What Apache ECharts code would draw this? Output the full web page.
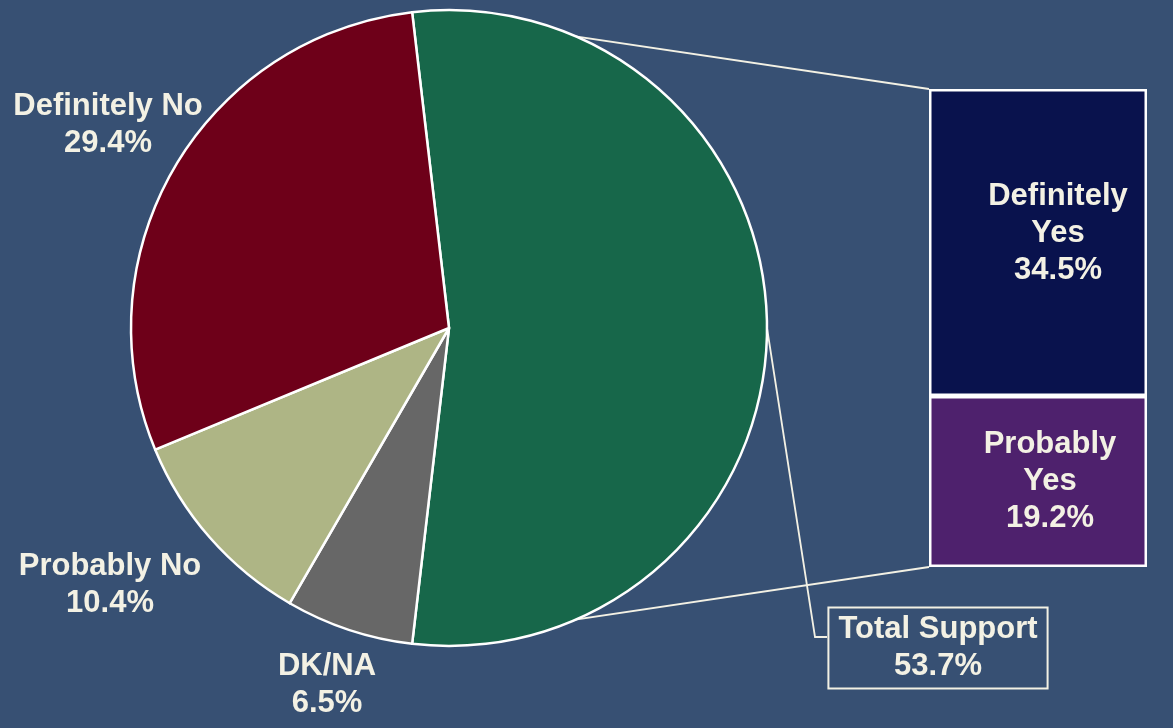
<!DOCTYPE html>
<html><head><meta charset="utf-8">
<script src="https://cdn.jsdelivr.net/npm/echarts@6/dist/echarts.min.js"></script>
<style>html,body{margin:0;padding:0;background:#375073}#c{width:1173px;height:728px}</style>
</head><body><div id="c"></div>
<script>
// Pie (main) data: first slice is the aggregated "Total Support"
const pieNames = ['Total Support', 'DK/NA', 'Probably No', 'Definitely No'];
const pieValues = [53.7, 6.5, 10.4, 29.4];
const pieColors = ['#17674a', '#676767', '#aeb585', '#6e0019'];
// Breakdown bar (bottom to top)
const barNames = ['Probably Yes', 'Definitely Yes'];
const barValues = [19.2, 34.5];
const barColors = ['#4e216d', '#09124d'];

const TXT = '#f3f1e4';
const FONT = 'Liberation Sans, Arial, sans-serif';
const FS = 31;
const CENTER = [449, 328];
const RADIUS = 318;
const startAngle = pieValues[0] / 100 * 360 / 2;
const labelPos = [
  {x: 938, y: 648},
  {x: 327, y: 685},
  {x: 110, y: 585},
  {x: 108, y: 125}
];

const chart = echarts.init(document.getElementById('c'));
const total = barValues.reduce((a, b) => a + b, 0);

chart.setOption({
  backgroundColor: '#375073',
  animation: false,
  grid: {left: 929, top: 89, width: 218, height: 478},
  xAxis: {type: 'category', data: ['Total Support'], show: false},
  yAxis: {type: 'value', min: 0, max: total, show: false},
  series: [
    {
      type: 'pie',
      center: CENTER,
      radius: RADIUS,
      startAngle: startAngle,
      clockwise: true,
      avoidLabelOverlap: false,
      z: 3,
      itemStyle: {borderColor: '#ffffff', borderWidth: 2.5},
      label: {
        show: true, position: 'outside', color: TXT, fontFamily: FONT,
        fontWeight: 'bold', fontSize: FS, lineHeight: 37,
        formatter: p => p.name + '\n' + p.value.toFixed(1) + '%'
      },
      labelLine: {show: false},
      labelLayout: p => ({x: labelPos[p.dataIndex].x, y: labelPos[p.dataIndex].y, align: 'center', verticalAlign: 'middle'}),
      emphasis: {disabled: true},
      data: pieNames.map((n, i) => {
        const d = {name: n, value: pieValues[i], itemStyle: {color: pieColors[i]}};
        if (i === 0) d.label = {borderColor: TXT, borderWidth: 2, padding: [4, 10, 3, 10]};
        return d;
      })
    },
    ...barNames.map((n, i) => ({
      type: 'bar', name: n, stack: 's', barWidth: '100%', z: 3,
      itemStyle: {color: barColors[i], borderColor: '#ffffff', borderWidth: 2.5},
      label: {
        show: true, position: 'inside', color: TXT, fontFamily: FONT,
        fontWeight: 'bold', fontSize: FS, lineHeight: 37,
        offset: i === 1 ? [20, -9] : [12, 0],
        formatter: p => p.seriesName.replace(' ', '\n') + '\n' + p.value.toFixed(1) + '%'
      },
      emphasis: {disabled: true},
      data: [barValues[i]]
    }))
  ]
});

// connector lines computed from pie geometry and the bar's grid rect
const rect = chart.getModel().getComponent('grid').coordinateSystem.getRect();
const a = startAngle * Math.PI / 180;
const topPt = [CENTER[0] + RADIUS * Math.cos(a), CENTER[1] - RADIUS * Math.sin(a)];
const botPt = [CENTER[0] + RADIUS * Math.cos(-a), CENTER[1] - RADIUS * Math.sin(-a)];
const lineStyle = {stroke: TXT, lineWidth: 1.8, fill: null};
const boxLeft = 827, leaderY = 637;
chart.setOption({
  graphic: [
    {type: 'polyline', z: 1, shape: {points: [topPt, [rect.x, rect.y]]}, style: lineStyle, silent: true},
    {type: 'polyline', z: 1, shape: {points: [botPt, [rect.x, rect.y + rect.height]]}, style: lineStyle, silent: true},
    {type: 'polyline', z: 1, shape: {points: [[CENTER[0] + RADIUS, CENTER[1]], [815, leaderY], [boxLeft, leaderY]]}, style: lineStyle, silent: true}
  ]
});
</script>
</body></html>
